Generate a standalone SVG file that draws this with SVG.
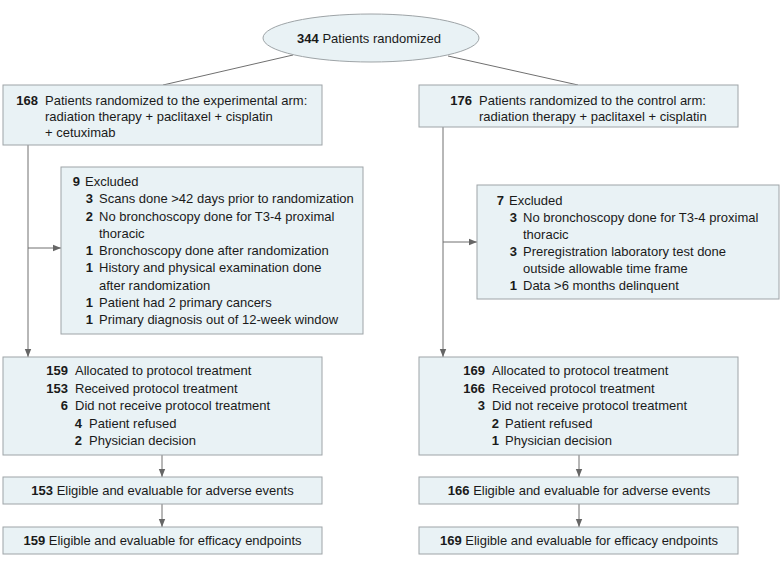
<svg xmlns="http://www.w3.org/2000/svg" width="783" height="567" viewBox="0 0 783 567">
<style>
.box{fill:#e9f2f5;stroke:#9ea4a7;stroke-width:1}
text{font-family:"Liberation Sans",Arial,sans-serif;font-size:13px;fill:#1a1a1a}
.n{font-weight:bold}
.e{text-anchor:end}
.m{text-anchor:middle}
.c{stroke:#707070;stroke-width:1;fill:none}
</style>
<defs>
<marker id="ah" viewBox="0 0 8 8" refX="8" refY="4" markerWidth="8" markerHeight="8" markerUnits="userSpaceOnUse" orient="auto">
<path d="M0,0.8 L8,4 L0,7.2 Z" fill="#666"/>
</marker>
</defs>
<rect width="783" height="567" fill="#fff"/>
<g id="connectors">
<line class="c" x1="293" y1="55" x2="163" y2="85"/>
<line class="c" x1="448" y1="56" x2="578" y2="85"/>
<line class="c" x1="28" y1="145" x2="28" y2="357" marker-end="url(#ah)"/>
<line class="c" x1="28" y1="248" x2="61" y2="248" marker-end="url(#ah)"/>
<line class="c" x1="443" y1="127" x2="443" y2="357" marker-end="url(#ah)"/>
<line class="c" x1="443" y1="242" x2="477" y2="242" marker-end="url(#ah)"/>
<line class="c" x1="162" y1="455" x2="162" y2="477" marker-end="url(#ah)"/>
<line class="c" x1="162" y1="504" x2="162" y2="527" marker-end="url(#ah)"/>
<line class="c" x1="579" y1="455" x2="579" y2="477" marker-end="url(#ah)"/>
<line class="c" x1="579" y1="504" x2="579" y2="527" marker-end="url(#ah)"/>
</g>
<g id="randomized">
<ellipse class="box" cx="371" cy="38" rx="108" ry="24"/>
<text class="m" x="369" y="43"><tspan class="n">344</tspan>  Patients randomized</text>
</g>
<g id="exp-arm">
<rect class="box" x="3" y="85" width="319" height="60"/>
<text class="n e" x="38" y="105">168</text>
<text x="45" y="105">Patients randomized to the experimental arm:</text>
<text x="45" y="121">radiation therapy + paclitaxel + cisplatin</text>
<text x="45" y="137">+ cetuximab</text>
</g>
<g id="ctrl-arm">
<rect class="box" x="419" y="85" width="319" height="42"/>
<text class="n e" x="472" y="105">176</text>
<text x="479" y="105">Patients randomized to the control arm:</text>
<text x="479" y="121">radiation therapy + paclitaxel + cisplatin</text>
</g>
<g id="exp-excluded">
<rect class="box" x="61" y="167" width="302" height="167"/>
<text class="n e" x="80" y="186">9</text>
<text x="85" y="186">Excluded</text>
<text class="n e" x="93" y="203.3">3</text>
<text x="99" y="203.3">Scans done &gt;42 days prior to randomization</text>
<text class="n e" x="93" y="220.5">2</text>
<text x="99" y="220.5">No bronchoscopy done for T3-4 proximal</text>
<text x="99" y="237.8">thoracic</text>
<text class="n e" x="93" y="255">1</text>
<text x="99" y="255">Bronchoscopy done after randomization</text>
<text class="n e" x="93" y="272.3">1</text>
<text x="99" y="272.3">History and physical examination done</text>
<text x="99" y="289.5">after randomization</text>
<text class="n e" x="93" y="306.8">1</text>
<text x="99" y="306.8">Patient had 2 primary cancers</text>
<text class="n e" x="93" y="324">1</text>
<text x="99" y="324">Primary diagnosis out of 12-week window</text>
</g>
<g id="ctrl-excluded">
<rect class="box" x="477" y="185" width="302" height="114"/>
<text class="n e" x="504" y="205">7</text>
<text x="509" y="205">Excluded</text>
<text class="n e" x="517" y="222">3</text>
<text x="523" y="222">No bronchoscopy done for T3-4 proximal</text>
<text x="523" y="239">thoracic</text>
<text class="n e" x="517" y="256">3</text>
<text x="523" y="256">Preregistration laboratory test done</text>
<text x="523" y="272.5">outside allowable time frame</text>
<text class="n e" x="517" y="289.5">1</text>
<text x="523" y="289.5">Data &gt;6 months delinquent</text>
</g>
<g id="exp-allocated">
<rect class="box" x="3" y="357" width="319" height="98"/>
<text class="n e" x="68" y="375">159</text>
<text x="75" y="375">Allocated to protocol treatment</text>
<text class="n e" x="68" y="392.5">153</text>
<text x="75" y="392.5">Received protocol treatment</text>
<text class="n e" x="68" y="410">6</text>
<text x="75" y="410">Did not receive protocol treatment</text>
<text class="n e" x="82" y="427.5">4</text>
<text x="89" y="427.5">Patient refused</text>
<text class="n e" x="82" y="445">2</text>
<text x="89" y="445">Physician decision</text>
</g>
<g id="ctrl-allocated">
<rect class="box" x="419" y="357" width="319" height="98"/>
<text class="n e" x="485" y="375">169</text>
<text x="492" y="375">Allocated to protocol treatment</text>
<text class="n e" x="485" y="392.5">166</text>
<text x="492" y="392.5">Received protocol treatment</text>
<text class="n e" x="485" y="410">3</text>
<text x="492" y="410">Did not receive protocol treatment</text>
<text class="n e" x="499" y="427.5">2</text>
<text x="505" y="427.5">Patient refused</text>
<text class="n e" x="499" y="445">1</text>
<text x="505" y="445">Physician decision</text>
</g>
<g id="exp-adverse">
<rect class="box" x="3" y="477" width="319" height="27"/>
<text class="m" x="162.5" y="495"><tspan class="n">153</tspan>  Eligible and evaluable for adverse events</text>
</g>
<g id="ctrl-adverse">
<rect class="box" x="419" y="477" width="319" height="27"/>
<text class="m" x="579" y="495"><tspan class="n">166</tspan>  Eligible and evaluable for adverse events</text>
</g>
<g id="exp-efficacy">
<rect class="box" x="3" y="527" width="319" height="27"/>
<text class="m" x="162.5" y="545"><tspan class="n">159</tspan>  Eligible and evaluable for efficacy endpoints</text>
</g>
<g id="ctrl-efficacy">
<rect class="box" x="419" y="527" width="319" height="27"/>
<text class="m" x="579" y="545"><tspan class="n">169</tspan>  Eligible and evaluable for efficacy endpoints</text>
</g>
</svg>
